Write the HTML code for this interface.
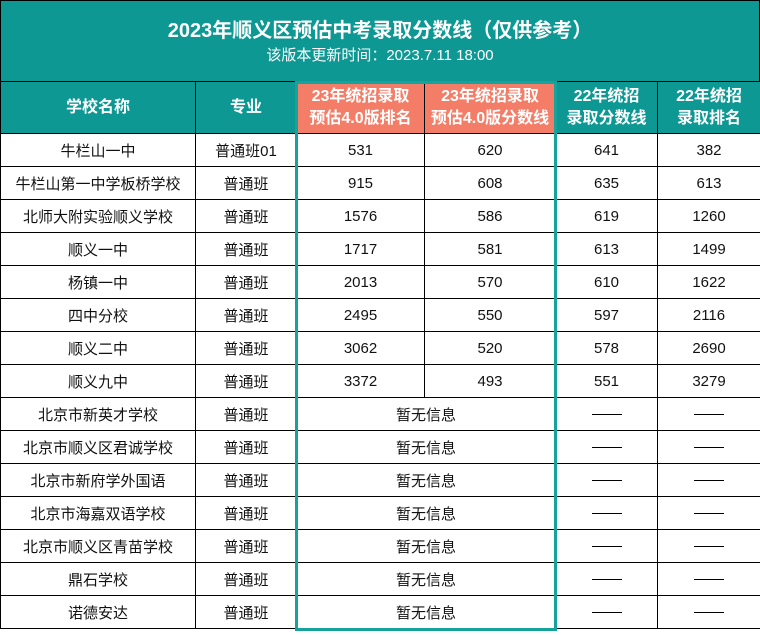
<!DOCTYPE html>
<html><head><meta charset="utf-8"><style>
body{margin:0;width:760px;height:635px;background:#fff;position:relative;overflow:hidden;font-family:"Liberation Sans","Noto Sans CJK SC",sans-serif;}
.title{position:absolute;left:0;top:0;width:758px;height:81px;background:#0e9894;border:1px solid #000;border-bottom:none;color:#fff;text-align:center;}
.t1{position:absolute;top:13px;width:100%;font-size:20px;font-weight:bold;}
.t2{position:absolute;top:43px;width:100%;font-size:15px;}
table{position:absolute;left:0;top:81px;border-collapse:collapse;table-layout:fixed;width:760px;}
td{border:1px solid #000;text-align:center;font-size:15px;color:#111;height:32px;padding:0;white-space:nowrap;}
tr.h td{height:51px;background:#0e9894;color:#fff;font-weight:bold;font-size:16px;line-height:22px;}
tr.h td.s{background:#f47d67;}
.d{display:inline-block;width:30px;height:1px;background:#000;vertical-align:middle;}
.box{position:absolute;left:295px;top:81px;width:256px;height:544px;border:3px solid #16a39c;}
</style></head><body>
<div class="title"><div class="t1">2023年顺义区预估中考录取分数线（仅供参考）</div><div class="t2">该版本更新时间：2023.7.11 18:00</div></div>
<table>
<colgroup><col style="width:195px"><col style="width:101px"><col style="width:128px"><col style="width:131px"><col style="width:102px"><col style="width:103px"></colgroup>
<tr class="h"><td>学校名称</td><td>专业</td><td class="s">23年统招录取<br>预估4.0版排名</td><td class="s">23年统招录取<br>预估4.0版分数线</td><td>22年统招<br>录取分数线</td><td>22年统招<br>录取排名</td></tr>
<tr><td>牛栏山一中</td><td>普通班01</td><td>531</td><td>620</td><td>641</td><td>382</td></tr>
<tr><td>牛栏山第一中学板桥学校</td><td>普通班</td><td>915</td><td>608</td><td>635</td><td>613</td></tr>
<tr><td>北师大附实验顺义学校</td><td>普通班</td><td>1576</td><td>586</td><td>619</td><td>1260</td></tr>
<tr><td>顺义一中</td><td>普通班</td><td>1717</td><td>581</td><td>613</td><td>1499</td></tr>
<tr><td>杨镇一中</td><td>普通班</td><td>2013</td><td>570</td><td>610</td><td>1622</td></tr>
<tr><td>四中分校</td><td>普通班</td><td>2495</td><td>550</td><td>597</td><td>2116</td></tr>
<tr><td>顺义二中</td><td>普通班</td><td>3062</td><td>520</td><td>578</td><td>2690</td></tr>
<tr><td>顺义九中</td><td>普通班</td><td>3372</td><td>493</td><td>551</td><td>3279</td></tr>
<tr><td>北京市新英才学校</td><td>普通班</td><td colspan="2">暂无信息</td><td><span class="d"></span></td><td><span class="d"></span></td></tr>
<tr><td>北京市顺义区君诚学校</td><td>普通班</td><td colspan="2">暂无信息</td><td><span class="d"></span></td><td><span class="d"></span></td></tr>
<tr><td>北京市新府学外国语</td><td>普通班</td><td colspan="2">暂无信息</td><td><span class="d"></span></td><td><span class="d"></span></td></tr>
<tr><td>北京市海嘉双语学校</td><td>普通班</td><td colspan="2">暂无信息</td><td><span class="d"></span></td><td><span class="d"></span></td></tr>
<tr><td>北京市顺义区青苗学校</td><td>普通班</td><td colspan="2">暂无信息</td><td><span class="d"></span></td><td><span class="d"></span></td></tr>
<tr><td>鼎石学校</td><td>普通班</td><td colspan="2">暂无信息</td><td><span class="d"></span></td><td><span class="d"></span></td></tr>
<tr><td>诺德安达</td><td>普通班</td><td colspan="2">暂无信息</td><td><span class="d"></span></td><td><span class="d"></span></td></tr>
</table>
<div class="box"></div>
</body></html>
